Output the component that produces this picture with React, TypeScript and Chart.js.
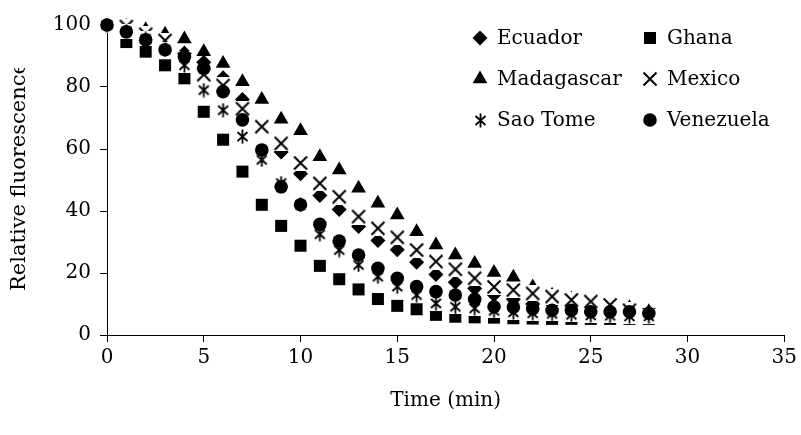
import React, { useEffect, useRef } from "react";
import { Chart, registerables } from "chart.js";
import { drawPoint } from "chart.js/helpers";

Chart.register(...registerables);

const FONT_FAMILY = "'DejaVu Serif', serif";
const FONT_SIZE = 20;

const TIME = [0, 1, 2, 3, 4, 5, 6, 7, 8, 9, 10, 11, 12, 13, 14, 15, 16, 17, 18, 19, 20, 21, 22, 23, 24, 25, 26, 27, 28];

const ECUADOR = [100, 99, 97, 94, 91, 88, 83, 76, 67, 59, 52, 45, 40.5, 35, 30.5, 27.5, 23.5, 19.5, 17, 15, 13, 11.5, 10, 9, 8.5, 8, 7.5, 7, 6.5];
const GHANA = [100, 94.5, 91.4, 87, 82.8, 72, 63, 52.7, 42, 35.2, 28.8, 22.3, 18, 14.7, 11.6, 9.4, 8.3, 6.5, 5.9, 5.7, 5.6, 5.4, 5.3, 5.2, 5.2, 5.2, 5.2, 5.2, 5.2];
const MADAGASCAR = [100, 99.5, 98.5, 97, 95.5, 91.4, 87.6, 81.7, 76, 69.6, 65.9, 57.5, 53.2, 47.3, 42.5, 38.7, 33.3, 29, 25.8, 23.1, 20.2, 18.6, 15.5, 12.8, 11.6, 10.5, 9.3, 8.8, 7.5];
const MEXICO = [100, 99.5, 97, 95, 89, 84, 80.5, 73, 67.2, 61.8, 55.5, 48.9, 44.6, 38.2, 34.4, 31.5, 27.4, 23.7, 21.2, 18.3, 15.5, 14.5, 13.4, 12.4, 11.3, 10.8, 9.7, 8, 6.5];
const SAO_TOME = [100, 98, 95.5, 92, 87, 79, 72.5, 64, 56.5, 49, 42, 32.5, 27.4, 22.6, 18.8, 15.6, 12.9, 10.2, 9.1, 8.6, 7.8, 7.3, 7, 6.8, 6.5, 6.3, 6.2, 6, 6];
const VENEZUELA = [100, 97.8, 95.2, 92, 89.8, 86, 78.5, 69.4, 59.7, 47.8, 42, 35.7, 30.3, 25.8, 21.5, 18.3, 15.6, 14, 12.9, 11.5, 9.1, 9, 8.5, 8, 8, 7.5, 7.5, 7.5, 7];

const SERIES_NAMES = ["Ecuador", "Ghana", "Madagascar", "Mexico", "Sao Tome", "Venezuela"];
const X_TICKS_MAX = 35;
const X_STEP = 5;
const Y_MAX = 100;
const Y_STEP = 20;
const X_TITLE = "Time (min)";
const Y_TITLE = "Relative fluorescence";

function makeCross(size: number, withVertical: boolean): HTMLCanvasElement {
  const c = document.createElement("canvas");
  c.width = size;
  c.height = size;
  const g = c.getContext("2d")!;
  g.fillStyle = "#ffffff";
  g.fillRect(0, 0, size, size);
  g.strokeStyle = "#000000";
  g.lineCap = "butt";
  g.beginPath();
  if (withVertical) {
    g.lineWidth = 1.8;
    g.moveTo(2.5, 3);
    g.lineTo(size - 2.5, size - 3);
    g.moveTo(size - 2.5, 3);
    g.lineTo(2.5, size - 3);
    g.moveTo(size / 2, 0.5);
    g.lineTo(size / 2, size - 0.5);
  } else {
    g.lineWidth = 2;
    g.moveTo(1.5, 1.5);
    g.lineTo(size - 1.5, size - 1.5);
    g.moveTo(size - 1.5, 1.5);
    g.lineTo(1.5, size - 1.5);
  }
  g.stroke();
  return c;
}

export default function App() {
  const canvasRef = useRef<HTMLCanvasElement | null>(null);

  useEffect(() => {
    const canvas = canvasRef.current;
    if (!canvas) return;
    const xImg = makeCross(16, false);
    const starImg = makeCross(15, true);

    const values = [ECUADOR, GHANA, MADAGASCAR, MEXICO, SAO_TOME, VENEZUELA];
    const styles: any[] = ["rectRot", "rect", "triangle", xImg, starImg, "circle"];
    const radii = [7.5, 8.5, 8.5, 8, 7.5, 6.8];

    const datasets = SERIES_NAMES.map((name, i) => ({
      label: name,
      data: TIME.map((t, k) => ({ x: t, y: values[i][k] })),
      pointStyle: styles[i],
      pointRadius: radii[i],
      pointBackgroundColor: "#000000",
      pointBorderColor: "#000000",
      pointBorderWidth: 0,
      showLine: false,
      clip: false as any,
      order: SERIES_NAMES.length - i,
    }));

    const font = { family: FONT_FAMILY, size: FONT_SIZE };

    const customDraw = {
      id: "customDraw",
      afterDraw(chart: any) {
        const ctx = chart.ctx as CanvasRenderingContext2D;
        // Y-axis title (clipped like the reference)
        ctx.save();
        ctx.beginPath();
        ctx.rect(0, 68, 60, 300);
        ctx.clip();
        ctx.translate(20, 291);
        ctx.rotate(-Math.PI / 2);
        ctx.font = `21px ${FONT_FAMILY}`;
        ctx.fillStyle = "#000";
        ctx.textAlign = "left";
        ctx.textBaseline = "middle";
        ctx.fillText(Y_TITLE, 0, 0);
        ctx.restore();

        // Legend: 2 columns x 3 rows
        const markerX = [480, 650];
        const textX = [497, 667];
        ctx.save();
        ctx.font = `${FONT_SIZE}px ${FONT_FAMILY}`;
        ctx.textAlign = "left";
        ctx.textBaseline = "middle";
        chart.data.datasets.forEach((ds: any, i: number) => {
          const col = i % 2;
          const row = Math.floor(i / 2);
          const y = 38 + row * 41;
          const mx = markerX[col];
          ctx.fillStyle = "#000";
          ctx.strokeStyle = "#000";
          const ps = ds.pointStyle;
          if (ps instanceof HTMLCanvasElement) {
            ctx.drawImage(ps, Math.round(mx - ps.width / 2), Math.round(y - ps.height / 2));
          } else {
            drawPoint(ctx, { pointStyle: ps, rotation: 0, radius: ds.pointRadius, borderWidth: 0 } as any, mx, y);
          }
          ctx.fillStyle = "#000";
          ctx.fillText(ds.label, textX[col], y + 1);
        });
        ctx.restore();
      },
    };

    const chart = new Chart(canvas, {
      type: "scatter",
      data: { datasets: datasets as any },
      options: {
        responsive: false,
        animation: false,
        layout: { padding: { top: 25, right: 15, left: 0, bottom: 0 } },
        plugins: { legend: { display: false }, tooltip: { enabled: false } },
        scales: {
          x: {
            type: "linear",
            min: 0,
            max: X_TICKS_MAX,
            ticks: { stepSize: X_STEP, font, color: "#000", padding: 4, maxRotation: 0 },
            grid: { display: true, drawOnChartArea: false, drawTicks: true, tickLength: 7, color: "#000", lineWidth: 1 },
            border: { display: true, color: "#000", width: 1 },
            title: { display: true, text: X_TITLE, font, color: "#000", padding: { top: 0, bottom: 22 } },
            afterFit: (s: any) => {
              s.height = 100;
            },
          },
          y: {
            type: "linear",
            min: 0,
            max: Y_MAX,
            ticks: { stepSize: Y_STEP, font, color: "#000", padding: 9 },
            grid: { display: true, drawOnChartArea: false, drawTicks: true, tickLength: 7, color: "#000", lineWidth: 1 },
            border: { display: true, color: "#000", width: 1 },
            afterFit: (s: any) => {
              s.width = 107;
            },
          },
        },
      },
      plugins: [customDraw],
    });
    return () => chart.destroy();
  }, []);

  return (
    <div style={{ position: "fixed", left: 0, top: 0, width: 801, height: 435, background: "#fff" }}>
      <canvas ref={canvasRef} width={801} height={435} style={{ display: "block", width: 801, height: 435 }} />
    </div>
  );
}
